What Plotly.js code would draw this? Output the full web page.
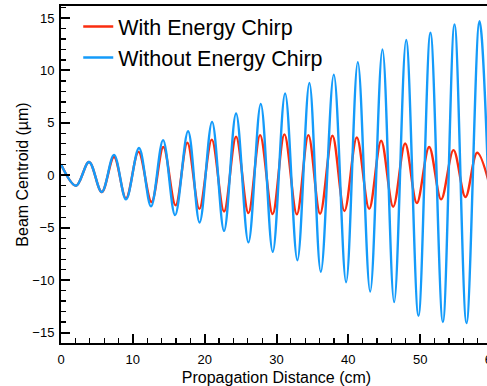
<!DOCTYPE html>
<html>
<head>
<meta charset="utf-8">
<script src="https://cdn.plot.ly/plotly-3.0.1.min.js"></script>
<style>
html,body{margin:0;padding:0;overflow:hidden;background:#fff;}
#chart{width:520px;height:386px;}
</style>
</head>
<body>
<div id="chart"></div>
<script>
// Propagation distance (cm) and beam centroid (µm) at the turning points
var withChirpX = [0, 2.09, 3.90, 5.67, 7.38, 9.05, 10.79, 12.60, 14.25, 15.95, 17.59, 19.26, 20.99, 22.70, 24.37, 26.09, 27.72, 29.46, 31.10, 32.83, 34.44, 36.07, 37.79, 39.46, 41.18, 42.90, 44.57, 46.24, 47.91, 49.54, 51.25, 52.92, 54.64, 56.31, 57.94, 60.0];
var withChirpY = [1.05, -1.0, 1.27, -1.6, 1.75, -2.2, 2.23, -2.55, 2.7, -2.87, 3.1, -3.2, 3.4, -3.45, 3.67, -3.6, 3.83, -3.7, 3.9, -3.72, 3.83, -3.67, 3.77, -3.4, 3.6, -3.2, 3.3, -3.0, 3.03, -2.65, 2.7, -2.3, 2.4, -2.07, 2.15, -1.85];

var withoutChirpX = [0, 2.09, 3.90, 5.67, 7.38, 9.05, 10.86, 12.53, 14.21, 15.88, 17.69, 19.29, 21.03, 22.70, 24.37, 26.09, 27.81, 29.48, 31.20, 32.91, 34.58, 36.17, 37.98, 39.69, 41.32, 43.04, 44.75, 46.38, 48.05, 49.76, 51.43, 53.16, 54.78, 56.45, 58.26, 60.0];
var withoutChirpY = [1.05, -1.0, 1.27, -1.6, 1.95, -2.3, 2.6, -2.97, 3.35, -3.8, 4.2, -4.5, 5.1, -5.3, 5.9, -6.4, 6.8, -7.3, 7.8, -8.1, 8.8, -9.2, 9.6, -10.2, 10.8, -11.1, 12.0, -12.1, 12.9, -13.4, 13.6, -14.0, 14.4, -14.1, 14.7, -12.0];

var seriesNames = ["With Energy Chirp", "Without Energy Chirp"];
var xTitle = "Propagation Distance (cm)";
var yTitle = "Beam Centroid (µm)";

var FONT = "Liberation Sans, Arial, Helvetica, sans-serif";

var traces = [
  {x: withChirpX, y: withChirpY, name: seriesNames[0], type: "scatter", mode: "lines",
   line: {color: "rgb(250,45,15)", width: 2.4, shape: "spline", smoothing: 1}},
  {x: withoutChirpX, y: withoutChirpY, name: seriesNames[1], type: "scatter", mode: "lines",
   line: {color: "rgb(20,155,250)", width: 2.4, shape: "spline", smoothing: 1}}
];

var layout = {
  width: 520, height: 386,
  margin: {l: 61, r: 28, t: 6, b: 43, pad: 0},
  paper_bgcolor: "#fff", plot_bgcolor: "#fff",
  font: {family: FONT, size: 12, color: "#000"},
  showlegend: true,
  legend: {x: 0.04, y: 1.0, xanchor: "left", yanchor: "top",
           bgcolor: "rgba(0,0,0,0)", borderwidth: 0,
           font: {family: FONT, size: 21.5, color: "#000"}, tracegroupgap: 0},
  xaxis: {
    range: [0, 60], tickvals: [0, 10, 20, 30, 40, 50, 60],
    ticks: "inside", ticklen: 9, tickwidth: 2, tickcolor: "#000",
    minor: {dtick: 2, ticks: "inside", ticklen: 5, tickwidth: 1.2, tickcolor: "#000"},
    showline: true, linewidth: 2, linecolor: "#000", mirror: true,
    showgrid: false, zeroline: false,
    tickfont: {family: FONT, size: 13, color: "#000"},
    ticklabelstandoff: 3,
    title: {text: xTitle, font: {family: FONT, size: 16, color: "#000"}, standoff: 6}
  },
  yaxis: {
    range: [-16, 16.15], tickvals: [-15, -10, -5, 0, 5, 10, 15],
    ticks: "inside", ticklen: 9, tickwidth: 2, tickcolor: "#000",
    minor: {dtick: 1, ticks: "inside", ticklen: 5, tickwidth: 1.2, tickcolor: "#000"},
    showline: true, linewidth: 2, linecolor: "#000", mirror: true,
    showgrid: false, zeroline: false,
    tickfont: {family: FONT, size: 13, color: "#000"},
    ticklabelstandoff: 2,
    title: {text: yTitle, font: {family: FONT, size: 16, color: "#000"}, standoff: 0}
  }
};

Plotly.newPlot("chart", traces, layout, {displayModeBar: false, staticPlot: true});
</script>
</body>
</html>
